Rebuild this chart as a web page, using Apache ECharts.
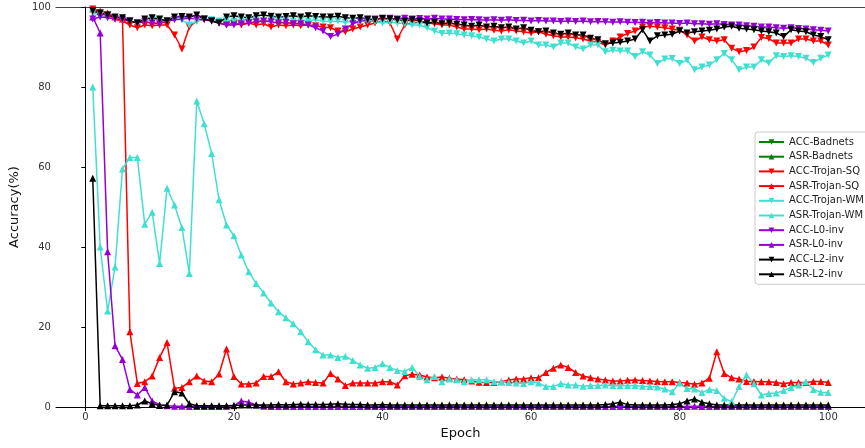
<!DOCTYPE html>
<html>
<head>
<meta charset="utf-8">
<script src="https://cdn.jsdelivr.net/npm/echarts@6/dist/echarts.min.js"></script>
<style>html,body{margin:0;padding:0;background:#fff}#c{width:865px;height:448px}</style>
</head>
<body>
<div id="c"></div>
<script>
const xTicks = [0, 20, 40, 60, 80, 100];
const yTicks = [0, 20, 40, 60, 80, 100];
const seriesNames = ["ACC-Badnets","ASR-Badnets","ACC-Trojan-SQ","ASR-Trojan-SQ","ACC-Trojan-WM","ASR-Trojan-WM","ACC-L0-inv","ASR-L0-inv","ACC-L2-inv","ASR-L2-inv"];

const accBadnets = [];
const asrBadnets = [];
const accTrojanSQ = [99.5,98.5,98,97,96.5,95.5,94.8,95.5,95.3,95.5,95.5,93,89.5,95,96.5,97,96.5,96,95.5,96,
95.5,96,95.5,95.8,95,95.5,95.3,95.5,95.3,95.5,95.3,95,94.8,94,93.8,94.5,95,95.5,96,96.5,
96,92,95.5,96,96.2,96,95.8,95.5,95.5,95,94.5,94.5,94.3,94.5,94.2,94,94.3,94,93.8,93.5,
93.8,93.2,92.8,92.5,92.5,92.3,92,91.5,91.2,90.5,91.5,92.5,93.4,94,95,95.2,95,94.8,94.5,94.2,
93,91.5,92.5,91.8,91.5,91.8,89.7,88.8,89.1,90,92.4,92.1,91,91,91,92,92,91.5,91.5,90.5];
const asrTrojanSQ = [99.5,99,98.5,97.5,97,18.8,5.9,6.3,7.75,12.4,16.1,4.7,4.9,6.3,7.75,6.5,6.3,8.25,14.5,7.6,
5.75,5.75,6,7.6,7.6,8.8,6.3,5.75,6,6.3,6.1,6,8.4,7,5.4,6,6,6,6,6.3,
6.3,5.5,7.8,8.2,8,7.5,7.3,7.5,7.2,7,6.8,6.5,6.2,6.1,6.1,6.3,6.75,7,7,7.3,
7.3,8.6,9.7,10.5,9.9,8.6,7.75,7.3,7,6.75,6.5,6.5,6.7,6.75,6.6,6.5,6.4,6.3,6.3,6.1,
6,5.7,6,7.2,13.8,8.4,7.3,7,6.4,6.4,6.3,6.3,6.1,5.8,6.1,6.1,6.1,6.4,6.4,6.1];
const accTrojanWM = [98.5,98,97.5,97,96.8,96.5,96,96.5,97,96.8,96.5,97,96.8,95.5,96.5,97,96.8,96.5,96.8,96.5,
96.8,97,96.8,96.5,96.8,97,96.8,96.5,96.8,96.5,96.8,96.5,96.3,96.5,96.2,96.5,96.3,96.5,96.3,96,
96.2,96,95.8,95.5,95.5,94.8,94,93.4,93.5,93.3,93,92.8,92.5,92,91.5,92,92,91.5,91,91.5,
90.5,90.5,90,91,91,90,89.5,90.5,90.5,88.8,89.2,89,89,87.6,88.8,88,85.9,87,87.1,85.9,
86.7,84.3,85,85.5,86.8,88.4,86.8,84.3,85,85,86.8,86,87.8,87.6,87.8,87.6,87.2,86.1,87.2,88];
const asrTrojanWM = [80,40,24,35,59.5,62.4,62.4,45.7,48.7,35.9,54.7,50.5,44.9,33.4,76.5,70.8,63.4,51.8,45.5,42.8,
38,33.8,30.9,28.5,26,23.8,22.3,20.8,18.8,16.3,14.3,13,13,12.4,12.7,11.6,10.5,9.7,9.9,10.8,
9.9,9.1,8.9,9.9,7.6,6.8,7.6,6.3,7,6.8,6.3,6.8,6.8,6.8,6.3,6.3,6.1,6,5.9,6.3,
6,5.1,5.1,5.9,5.5,5.5,5.2,5.4,5.4,5.5,5.4,5.3,5.4,5.4,5.2,5.1,5,4.5,3.8,6,
4.6,4.5,3.6,4.4,4.1,2.2,1.3,5.1,8,5.8,3,3.4,3.5,4.1,4.9,5.5,6.3,4.4,3.7,3.6];
const accL0inv = [97,97.5,97.3,97,96.8,96.5,96,96.3,96,95.8,96.5,96.8,97,97.2,97,96.8,96.5,96,95.5,95.5,
95.8,96,96.3,96.5,96.3,96,96.2,95.8,95.8,95.5,94.8,94,92.6,93.2,94.5,95.8,96.5,96.8,97,97,
97.2,97,97.2,97,97.1,97,97.2,97,97,96.9,96.8,96.9,96.8,96.7,96.8,96.7,96.8,96.6,96.7,96.5,
96.6,96.5,96.5,96.4,96.5,96.4,96.5,96.3,96.4,96.3,96.2,96.3,96.2,96.1,96.2,96,96.1,96,96,95.9,
96,95.8,95.8,95.7,95.8,95.6,95.5,95.5,95.3,95.2,95,95,94.8,94.7,94.8,94.6,94.5,94.3,94.2,94];
const asrL0inv = [97.5,93.5,38.8,15.3,11.9,4.4,3,4.9,1.5,0.5,0.3,0.2,0.2,0.1,0.1,0.1,0.1,0.1,0.2,0.3,
1.5,1.2,0.5,0.2,0.1,0.1,0.1,0.1,0.1,0.1,0.1,0.1,0.1,0.1,0.1,0.1,0.1,0.1,0.1,0.1,
0.1,0.1,0.1,0.1,0.1,0.1,0.1,0.1,0.1,0.1,0.1,0.1,0.1,0.1,0.1,0.1,0.1,0.1,0.1,0.1,
0.1,0.1,0.1,0.1,0.1,0.1,0.1,0.1,0.1,0.1,0.1,0.1,0.1,0.1,0.1,0.1,0.1,0.1,0.1,0.1,
0.1,0.2,0.1,0.1,0.1,0.1,0.1,0.1,0.1,0.1,0.1,0.1,0.1,0.1,0.1,0.1,0.1,0.1,0.1,0.1];
const accL2inv = [99,98.5,98,97.5,97.3,96.5,96,97,97.3,97,96.5,97.5,97.6,97.5,98,97,96.5,96,97.5,97.8,
97.5,97.3,97.8,98,97.7,97.5,97.6,97.8,97.5,97.8,97.6,97.5,97.5,97.7,97.3,97.2,97.3,97,96.8,97.2,
97,96.8,96.5,96.8,96.5,96,96.2,95.8,96,95.7,95.5,95.2,95.5,95,95.2,94.8,95,94.5,94.8,94.2,
93.8,94,93.5,93.2,93.5,93,93,92.2,91.8,90.8,91,91.2,91.5,92,94.3,91.5,92.8,93,93.2,94,
93.5,93.8,94,94.2,94.5,95,95.2,94.7,94.5,94.3,94,93.8,93.5,92.6,94.3,94,93.8,93,92.6,91.8];
const asrL2inv = [57.2,0.3,0.3,0.3,0.3,0.3,0.5,1.5,0.8,0.4,0.5,3.8,3.5,0.8,0.3,0.3,0.3,0.3,0.3,0.4,
0.5,0.5,0.5,0.5,0.5,0.6,0.5,0.6,0.7,0.6,0.6,0.6,0.7,0.8,0.7,0.6,0.6,0.5,0.5,0.6,
0.5,0.5,0.5,0.5,0.5,0.5,0.5,0.5,0.5,0.5,0.5,0.5,0.5,0.5,0.5,0.5,0.5,0.5,0.5,0.5,
0.5,0.5,0.5,0.5,0.5,0.5,0.5,0.5,0.5,0.6,0.8,1.2,0.6,0.5,0.5,0.5,0.5,0.5,0.6,0.8,
1.5,2,1.2,0.8,0.5,0.5,0.5,0.5,0.5,0.5,0.5,0.5,0.5,0.5,0.5,0.5,0.5,0.5,0.5,0.5];

const seriesData = [accBadnets, asrBadnets, accTrojanSQ, asrTrojanSQ, accTrojanWM, asrTrojanWM, accL0inv, asrL0inv, accL2inv, asrL2inv];
const colors = ['#008000','#008000','#ff0000','#ff0000','#40e0d0','#40e0d0','#9400d3','#9400d3','#000000','#000000'];

const font = 'DejaVu Sans';
const series = seriesNames.map((name, k) => {
  const isAcc = name.startsWith('ACC');
  return {
    name: name,
    type: 'line',
    data: seriesData[k].map((v, i) => [i + 1, v]),
    symbol: 'triangle',
    symbolSize: 7,
    symbolRotate: isAcc ? 180 : 0,
    showSymbol: true,
    showAllSymbol: true,
    lineStyle: { color: colors[k], width: 1.5 },
    itemStyle: { color: colors[k] },
    emphasis: { disabled: true },
    animation: false
  };
});

const chart = echarts.init(document.getElementById('c'), null, { renderer: 'canvas' });
chart.setOption({
  animation: false,
  backgroundColor: '#fff',
  grid: { left: 54, top: 7, bottom: 41, right: -6 },
  legend: {
    orient: 'vertical',
    left: 755, top: 132,
    itemWidth: 25, itemHeight: 7, itemGap: 4.7,
    padding: [5, 6, 5, 3],
    backgroundColor: '#fff',
    borderColor: '#cccccc', borderWidth: 1, borderRadius: 3,
    textStyle: { fontFamily: font, fontSize: 10, color: '#222' },
    data: seriesNames
  },
  xAxis: [{
    type: 'value', min: -3.95, max: 104.95,
    name: 'Epoch', nameLocation: 'middle', nameGap: 20,
    nameTextStyle: { fontFamily: font, fontSize: 13, color: '#111' },
    axisLine: { show: true, lineStyle: { color: '#000', width: 1 } },
    axisTick: { show: true, length: 4, customValues: xTicks, lineStyle: { color: '#000' } },
    axisLabel: { customValues: xTicks, fontFamily: font, fontSize: 10, color: '#333', margin: 5 },
    splitLine: { show: false }
  }, {
    type: 'value', min: -3.95, max: 104.95, position: 'top',
    axisLine: { show: true, lineStyle: { color: '#444', width: 1 } },
    axisTick: { show: false }, axisLabel: { show: false }, splitLine: { show: false }
  }],
  yAxis: {
    type: 'value', min: 0, max: 100, interval: 20,
    name: 'Accuracy(%)', nameLocation: 'middle', nameGap: 27,
    nameTextStyle: { fontFamily: font, fontSize: 13, color: '#111' },
    axisLine: { show: true, lineStyle: { color: '#000', width: 1 } },
    axisTick: { show: true, length: 4, lineStyle: { color: '#000' } },
    axisLabel: { fontFamily: font, fontSize: 10, color: '#333', margin: 5 },
    splitLine: { show: false }
  },
  series: series
});
</script>
</body>
</html>
